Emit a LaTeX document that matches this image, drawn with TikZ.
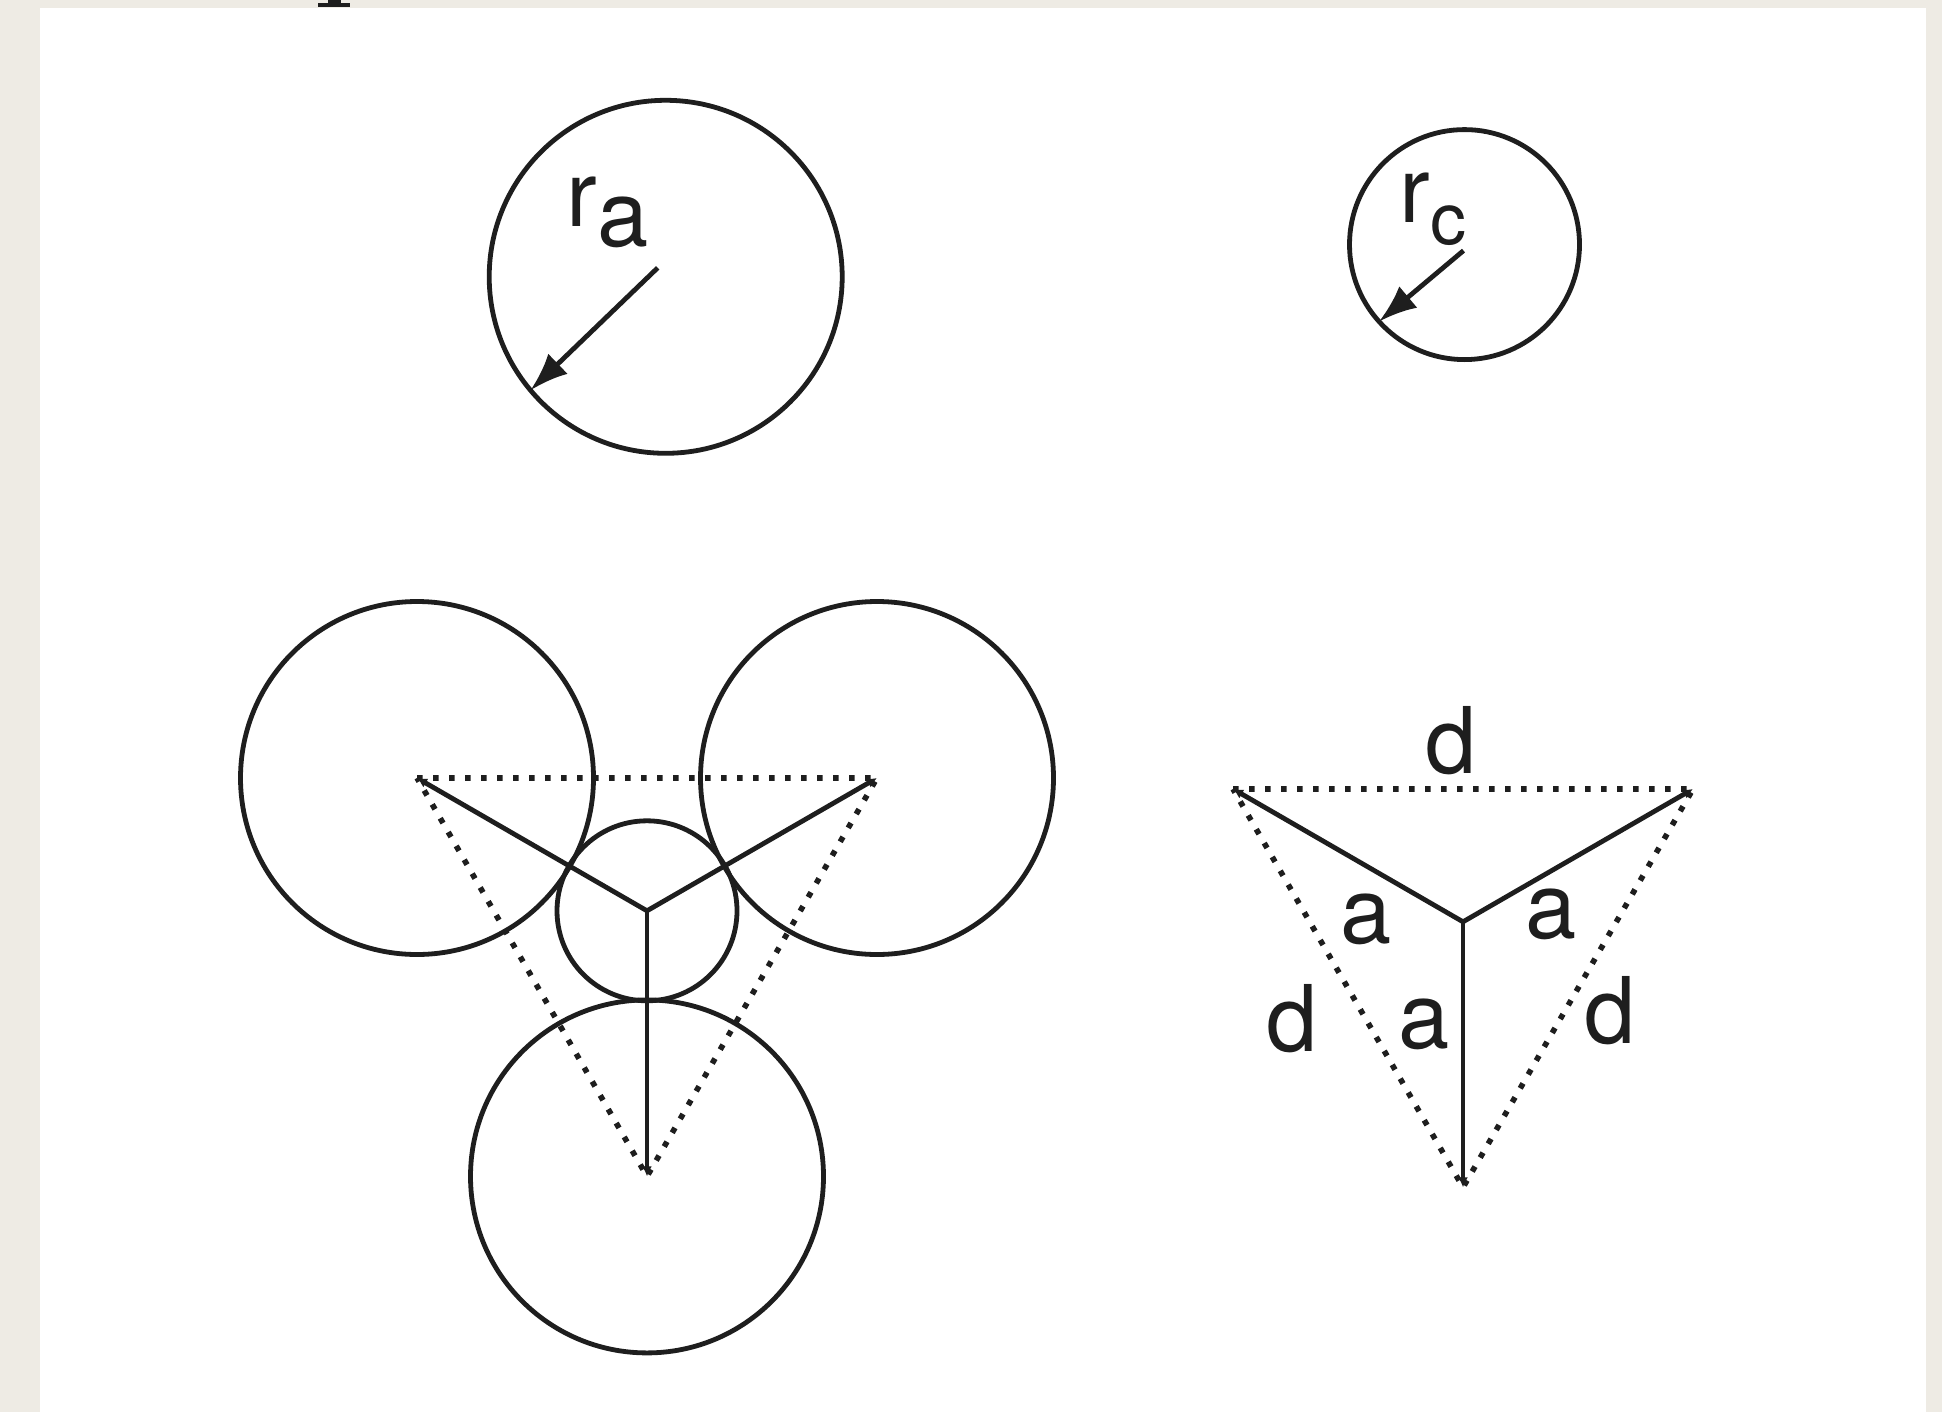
\documentclass[tikz,border=0pt]{standalone}
\usepackage{fontspec}
\setmainfont{TeX Gyre Heros}
\usetikzlibrary{arrows.meta}
\definecolor{paperbg}{HTML}{EEEBE4}
\definecolor{inkline}{HTML}{1E1E1E}

\begin{document}
\begin{tikzpicture}[
        x=0.5pt, y=-0.5pt,
        ionring/.style={draw=inkline, circle, line width=2.4pt, inner sep=0pt, outer sep=0pt},
        anion/.style={ionring, minimum size=176.5pt},
        cation/.style={ionring, minimum size=115pt},
        midcation/.style={ionring, minimum size=90pt},
        radiusarrow/.style={-{Latex[length=19pt, width=14pt]}, line width=2.4pt, inkline},
        bond/.style={-{Latex[length=5pt, width=5pt]}, line width=2.4pt, inkline},
        sideline/.style={line width=2.8pt, inkline, dash pattern=on 2.8pt off 5.2pt},
        lbl/.style={inner sep=0pt, font=\fontsize{46}{55}\selectfont, text=inkline}
    ]
        % paper and page
        \fill[paperbg] (0,0) rectangle (1942,1412);
        \fill[white] (40,8) rectangle (1926,1412);
        \fill[inkline] (318,3) rectangle (350,7);
        \fill[inkline] (328,0) rectangle (341,3);
        \useasboundingbox (0,0) rectangle (1942,1412);

        % single ions with their radii
        \node[anion] (anion) at (665.7,276.8) {};
        \node[cation] (cation) at (1464.5,244.6) {};
        \draw[radiusarrow] ([shift={(-8,-9)}]anion.center) -- (anion.220);
        \draw[radiusarrow] ([shift={(-1,6)}]cation.center) -- (cation.222);
        \node[lbl, anchor=base west] (ralabel) at (566,227) {r\raisebox{-10pt}{a}};
        \node[lbl, anchor=base west] (rclabel) at (1399,223)
            {r\raisebox{-11pt}{\fontsize{36}{43}\selectfont c}};

        % three anions round one cation
        \coordinate (left1) at (417,778);
        \coordinate (right1) at (877,778);
        \coordinate (bottom1) at (647,1176.4);
        \coordinate (mid1) at (647,910.8);
        \node[anion] (leftion) at (left1) {};
        \node[anion] (rightion) at (right1) {};
        \node[anion] (bottomion) at (bottom1) {};
        \node[midcation] (midion) at (mid1) {};
        \draw[sideline] (left1) -- (right1) -- (bottom1) -- cycle;
        \draw[bond] (mid1) -- (left1);
        \draw[bond] (mid1) -- (right1);
        \draw[bond] (mid1) -- (bottom1);

        % the same triangle with its lengths
        \coordinate (left2) at (1233,789);
        \coordinate (right2) at (1693,789);
        \coordinate (bottom2) at (1463,1187.4);
        \coordinate (mid2) at (1463,921.8);
        \draw[sideline] (left2) -- (right2) -- (bottom2) -- cycle;
        \draw[bond] (mid2) -- (left2);
        \draw[bond] (mid2) -- (right2);
        \draw[bond] (mid2) -- (bottom2);
        \node[lbl] (dtop) at (1451.5,740.6) {d};
        \node[lbl] (dleft) at (1291.7,1019) {d};
        \node[lbl] (dright) at (1610,1010.6) {d};
        \node[lbl] (aleft) at (1366,919) {a};
        \node[lbl] (aright) at (1550.6,914) {a};
        \node[lbl] (abottom) at (1424,1024) {a};
\end{tikzpicture}
\end{document}
